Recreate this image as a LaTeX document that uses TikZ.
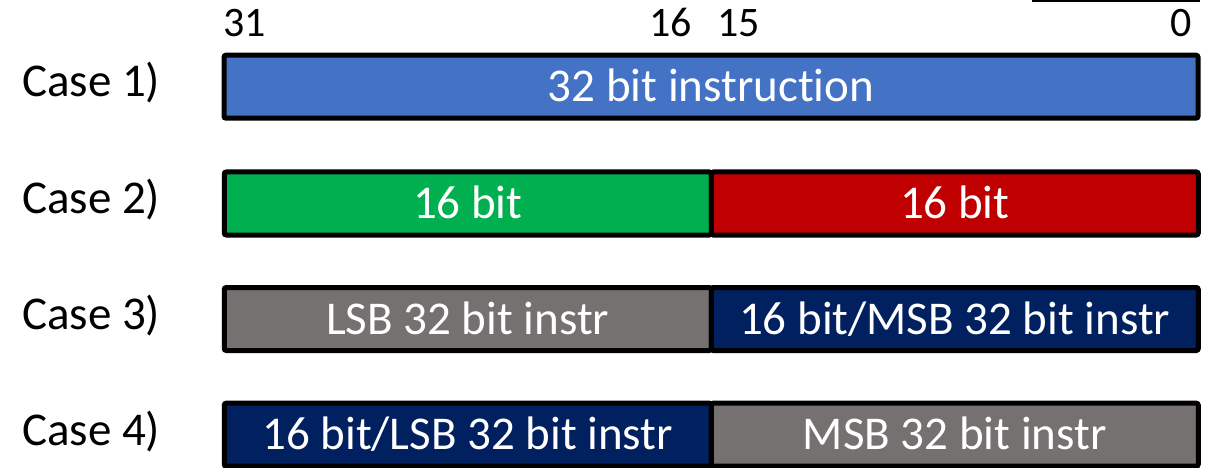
\documentclass[tikz,border=0pt]{standalone}
\usepackage{fontspec}
\setmainfont{Carlito}[Ligatures={NoCommon}]
\definecolor{offblue}{HTML}{4472C4}
\definecolor{offgreen}{HTML}{00B050}
\definecolor{offred}{HTML}{C00000}
\definecolor{offgray}{HTML}{767171}
\definecolor{offnavy}{HTML}{002060}
\begin{document}
\begin{tikzpicture}[x=1pt,y=-1pt,
  field/.style={draw=black, line width=5pt, rounded corners=2pt, inner sep=0pt,
    minimum height=63pt, text height=30pt, text depth=0pt, text=white,
    font=\fontsize{47}{56}\selectfont},
  whole/.style={field, minimum width=974pt},
  half/.style={field, minimum width=487pt},
  caselabel/.style={anchor=base west, inner sep=0pt, font=\fontsize{47}{56}\selectfont},
  bitno/.style={inner sep=0pt, font=\fontsize{42}{50}\selectfont}]
\useasboundingbox (0,0) rectangle (1205,468);

% short rule at the top edge
\coordinate (ruleL) at (1032,0.8);
\coordinate (ruleR) at (1200,0.8);
\draw[line width=1.6pt] (ruleL) -- (ruleR);

% bit positions
\node[bitno, anchor=base west] (b31) at (223,37) {31};
\node[bitno, anchor=base east] (b16) at (692,37) {16};
\node[bitno, anchor=base west] (b15) at (717,37) {15};
\node[bitno, anchor=base east] (b0) at (1192,37) {0};

% case labels
\node[caselabel] (c1) at (22,97) {Case 1)};
\node[caselabel] (c2) at (22,213) {Case 2)};
\node[caselabel] (c3) at (22,329) {Case 3)};
\node[caselabel] (c4) at (22,445) {Case 4)};

% case 1: one 32 bit word
\node[whole, fill=offblue] (w1) at (711,86.7) {32 bit instruction};

% case 2: two 16 bit halves
\node[half, fill=offgreen] (h2a) at (467.75,203.5) {16 bit};
\node[half, fill=offred] (h2b) at (954.75,203.5) {16 bit};

% case 3
\node[half, fill=offgray] (h3a) at (467.75,319) {LSB 32 bit instr};
\node[half, fill=offnavy] (h3b) at (954.75,319) {16 bit/MSB 32 bit instr};

% case 4
\node[half, fill=offnavy] (h4a) at (467.75,434.7) {16 bit/LSB 32 bit instr};
\node[half, fill=offgray] (h4b) at (954.75,434.7) {MSB 32 bit instr};
\end{tikzpicture}
\end{document}
